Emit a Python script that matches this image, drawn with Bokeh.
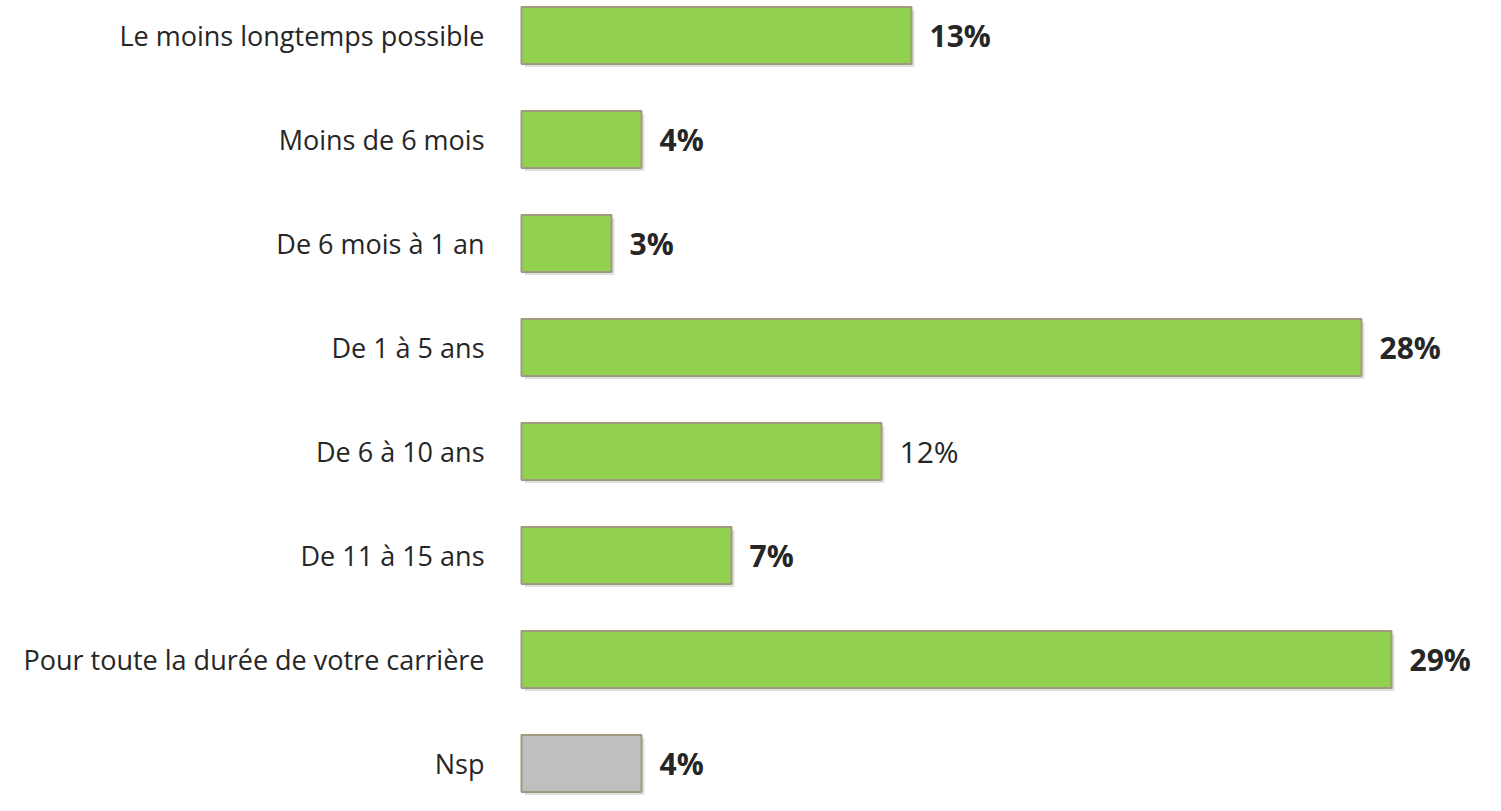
from bokeh.plotting import figure
from bokeh.models import Range1d, ColumnDataSource
from bokeh.core.properties import value
from bokeh.embed import file_html
from bokeh.resources import INLINE

categories = ["Le moins longtemps possible", "Moins de 6 mois", "De 6 mois à 1 an",
              "De 1 à 5 ans", "De 6 à 10 ans", "De 11 à 15 ans",
              "Pour toute la durée de votre carrière", "Nsp"]
values = [13, 4, 3, 28, 12, 7, 29, 4]
value_labels = ["13%", "4%", "3%", "28%", "12%", "7%", "29%", "4%"]
bold_flags = [True, True, True, True, False, True, True, True]
colors = ["#92D050"] * 7 + ["#BFBFBF"]

W, H = 1485, 795
px_per_unit = 30.0
x0_px = 521
row_px = 104.0
top_px = 35
bar_h = 57.0 / row_px

ys = list(range(len(categories)))
src = ColumnDataSource(dict(y=ys, v=values, cat=categories, lab=value_labels, col=colors,
                            shadow_y=[y + 3.0 / row_px for y in ys],
                            shadow_v=[v + 3.0 / px_per_unit for v in values],
                            shadow_l=[3.0 / px_per_unit] * len(ys)))

p = figure(width=W, height=H, output_backend="svg", toolbar_location=None,
           x_range=Range1d(-x0_px / px_per_unit, (W - x0_px) / px_per_unit),
           y_range=Range1d((H - top_px) / row_px, -top_px / row_px),
           min_border=0)
p.axis.visible = False
p.grid.visible = False
p.outline_line_color = None
p.background_fill_color = "white"
p.border_fill_color = "white"

# shadow
p.hbar(y="shadow_y", left="shadow_l", right="shadow_v", height=bar_h, source=src,
       fill_color="#000000", fill_alpha=0.12, line_color=None)
p.hbar(y="y", left=0, right="v", height=bar_h, source=src,
       fill_color="col", line_color="#A09A7E", line_width=2)

p.text(x=0, y="y", text="cat", source=src, x_offset=-37, text_align="right",
       text_baseline="middle", text_font=value("Open Sans"), text_font_size="27px",
       text_color="#262626")

bold_idx = [i for i, b in enumerate(bold_flags) if b]
norm_idx = [i for i, b in enumerate(bold_flags) if not b]
bsrc = ColumnDataSource(dict(y=[ys[i] for i in bold_idx], v=[values[i] for i in bold_idx],
                             lab=[value_labels[i] for i in bold_idx]))
nsrc = ColumnDataSource(dict(y=[ys[i] for i in norm_idx], v=[values[i] for i in norm_idx],
                             lab=[value_labels[i] for i in norm_idx]))
p.text(x="v", y="y", text="lab", source=bsrc, x_offset=18, text_align="left",
       text_baseline="middle", text_font=value("Open Sans"), text_font_size="30px",
       text_font_style="bold", text_color="#262626")
p.text(x="v", y="y", text="lab", source=nsrc, x_offset=18, text_align="left",
       text_baseline="middle", text_font=value("Open Sans"), text_font_size="30px",
       text_color="#262626")

open("out.html", "w").write(file_html(p, INLINE))
